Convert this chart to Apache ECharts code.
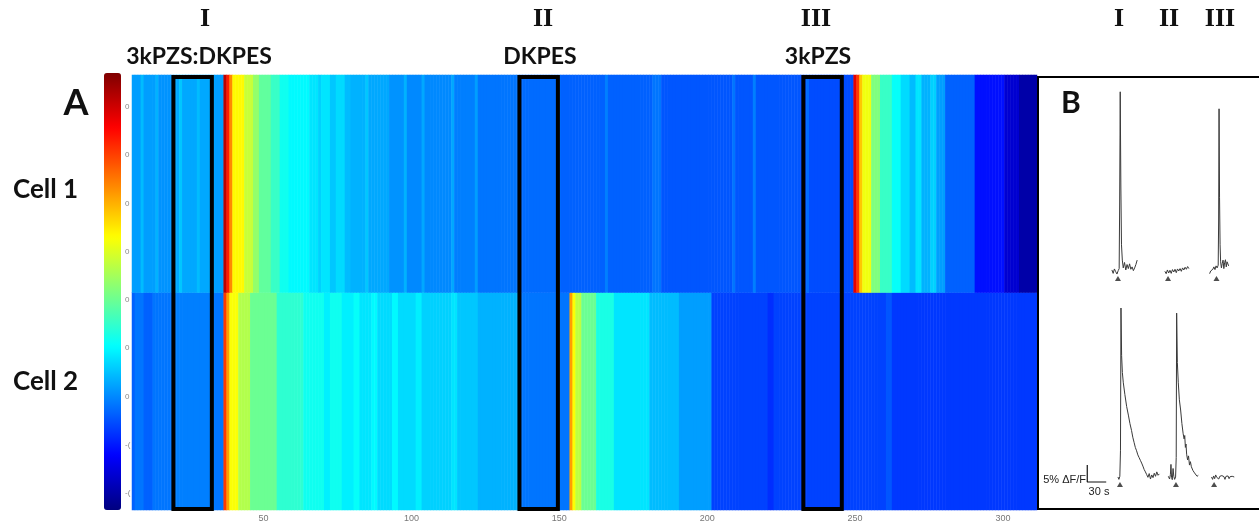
<!DOCTYPE html>
<html>
<head>
<meta charset="utf-8">
<style>
  html, body { margin: 0; padding: 0; background: #fff; }
  #main { width: 1259px; height: 527px; }
</style>
<script src="https://cdn.jsdelivr.net/npm/echarts@6/dist/echarts.min.js"></script>
</head>
<body>
<div id="main"></div>
<script>
// frames visible on the x axis of the heatmap
const firstFrame = 6;
const lastFrame = 311;
const rowNames = ['Cell 2', 'Cell 1'];
const xTickLabels = [50, 100, 150, 200, 250, 300];
const colorbarLabels = ['0', '0', '0', '0', '0', '0', '0', '-(', '-('];

// [first frame, last frame, colour value 0..1] read stripe by stripe
const cell1Runs = [
  [6, 8, 0.28], [9, 9, 0.31], [10, 13, 0.28], [14, 14, 0.30], [15, 19, 0.27],
  [20, 21, 0.29], [22, 22, 0.32], [23, 27, 0.29], [28, 28, 0.31], [29, 33, 0.29],
  [34, 36, 0.28], [37, 37, 0.94], [38, 38, 0.85], [39, 39, 0.74], [40, 43, 0.63], [44, 46, 0.57],
  [47, 48, 0.52], [49, 52, 0.47], [53, 55, 0.43], [56, 58, 0.39], [59, 65, 0.37], [66, 68, 0.35],
  [69, 69, 0.33], [70, 72, 0.35], [73, 74, 0.32], [75, 77, 0.34], [78, 79, 0.31], [80, 84, 0.30],
  [85, 85, 0.32], [86, 92, 0.29], [93, 97, 0.27], [98, 98, 0.30], [99, 103, 0.26], [104, 104, 0.29],
  [105, 113, 0.26], [114, 114, 0.29], [115, 121, 0.25], [122, 122, 0.28], [123, 136, 0.24],
  [137, 150, 0.23], [151, 165, 0.22], [166, 166, 0.25], [167, 181, 0.22], [182, 184, 0.24],
  [185, 208, 0.21], [209, 209, 0.24], [210, 215, 0.21], [216, 216, 0.25], [217, 231, 0.21],
  [232, 233, 0.20], [234, 234, 0.23], [235, 249, 0.20], [250, 250, 0.90], [251, 251, 0.82],
  [252, 252, 0.68], [253, 255, 0.61], [256, 258, 0.50], [259, 262, 0.43], [263, 265, 0.38],
  [266, 268, 0.34], [269, 270, 0.31], [271, 272, 0.35], [273, 275, 0.30], [276, 277, 0.33],
  [278, 280, 0.28], [281, 290, 0.22], [291, 300, 0.14], [301, 305, 0.08], [306, 311, 0.04]
];
const cell2Runs = [
  [6, 6, 0.22], [7, 9, 0.24], [10, 12, 0.22], [13, 19, 0.24], [20, 33, 0.25],
  [34, 36, 0.24], [37, 37, 0.82], [38, 38, 0.72], [39, 41, 0.62], [42, 45, 0.55], [46, 54, 0.48],
  [55, 63, 0.42], [64, 70, 0.39], [71, 72, 0.36], [73, 76, 0.39], [77, 80, 0.36], [81, 82, 0.38],
  [83, 86, 0.35], [87, 88, 0.37], [89, 93, 0.34], [94, 95, 0.37], [96, 101, 0.34], [102, 103, 0.36],
  [104, 113, 0.33], [114, 115, 0.35], [116, 122, 0.32], [123, 136, 0.30], [137, 153, 0.24],
  [154, 154, 0.72], [155, 155, 0.62], [156, 157, 0.56], [158, 162, 0.48], [163, 168, 0.40],
  [169, 180, 0.35], [181, 190, 0.31], [191, 201, 0.28], [202, 220, 0.19], [221, 222, 0.17],
  [223, 260, 0.19], [261, 262, 0.21], [263, 311, 0.18]
];

// boxed windows: [first frame, last frame]
const windows = [[20, 32], [137, 149], [233, 245]];
const windowNames = ['I', 'II', 'III'];
const windowDrugs = ['3kPZS:DKPES', 'DKPES', '3kPZS'];

// panel B traces, [time (s), dF/F (%)]
const traceC1I = [[3,0.6],[5,-0.4],[7,0.9],[9,0.1],[11,-0.6],[13,0.4],[14.5,1],[15.3,20],[16.2,53],[17.2,25],[18.2,8],[19.5,3.5],[21,1.2],[23,2.8],[25,0.6],[27,2.2],[29,1],[31,2.4],[33,0.8],[35,1.5],[37,0.4],[39,1.2],[41,2.2],[43,3.5]];
const traceC1II = [[3,0.2],[5,-0.5],[7,0.6],[9,-0.3],[11,0.5],[13,-0.4],[15,0.7],[17,0],[19,0.8],[21,-0.2],[23,0.9],[25,0.3],[27,1],[29,0.2],[31,1.2],[33,0.6],[35,1.4],[37,0.8],[39,1.6],[41,1]];
const traceC1III = [[3,-0.5],[5,0.3],[7,-0.2],[9,0.8],[11,1.5],[13,0.7],[15,1.8],[17,1.2],[19,2],[19.8,15],[20.6,48],[21.5,22],[22.5,8],[23.5,3],[25,1.2],[26.5,2.5],[28,3.5],[29.5,1],[31,2.8],[32.5,3.6],[34,1.5],[35.5,3],[37,3.4],[38.5,1.8]];
const traceC2I = [[1.5,0.3],[3,-0.4],[4.5,0.5],[5.5,8],[6.3,50],[7.3,36],[8.5,31],[10,28],[12.5,24.5],[15.3,21],[18,18.5],[20.5,16],[23,14],[25,12],[27,10.5],[29,9],[31,8],[33,6.8],[35,6],[37,5.2],[39,4.4],[41,3.5],[43,2.5],[45,1.8],[47,1],[49,0.2],[51,1.3],[53,-0.3],[55,0.9],[57,0.1],[59,1.4],[61,0.5],[63,1.8],[65,0.8],[67,1.2]];
const traceC2II = [[0.5,0.5],[2.5,-0.3],[3.8,1],[4.7,4],[5.6,0.2],[6.8,-0.5],[8,2.8],[9.2,0.5],[10.5,-0.4],[12,0.3],[13,6],[13.7,48.5],[14.8,34],[16.3,28],[18,23],[20,20],[22,16],[24,13],[25.5,11.5],[26.5,12.5],[27.5,9],[28.5,10],[29.5,7],[31,5.3],[32.5,6.5],[34,3.8],[35.5,4.8],[37,3.3],[39.5,2.2],[42,1.5],[44,2],[46,0.5],[48,0.8]];
const traceC2III = [[3,0.3],[5,-0.4],[7,0.6],[9,-0.2],[11,0.9],[13,0.2],[15,0.6],[17,-0.3],[19,0.5],[21,0.1],[23,0.7],[25,0.2],[27,0.4],[29,-0.4],[31,0.5],[33,0],[35,0.6],[37,-0.2],[39,0.4],[41,0.1],[43,0.5],[45,0.2],[47,0.3]];
// stimulus arrow times (s) for each trace
const stimTimes = [12.6, 8, 15.8, 4.7, 12.6, 7.9];
const scaleBar = [[2, 5], [2, 0], [32, 0]]; // 5 % by 30 s

const jet = ['#00007F', '#0000FF', '#007FFF', '#00FFFF', '#7FFF7F', '#FFFF00', '#FF7F00', '#FF0000', '#7F0000'];

const frames = [];
for (let i = firstFrame; i <= lastFrame; i++) frames.push(String(i));

const heatData = [];
[[cell2Runs, 0], [cell1Runs, 1]].forEach(function (pair) {
  pair[0].forEach(function (r) {
    for (let f = r[0]; f <= r[1]; f++) heatData.push([f - firstFrame, pair[1], r[2]]);
  });
});

const chart = echarts.init(document.getElementById('main'));

const grids = [
  { left: 132, right: 222, top: 75, bottom: 17 },      // heatmap
  { left: 121, width: 1, top: 82.85, height: 434.3 }   // colorbar labels
];
const xAxes = [
  {
    type: 'category', gridIndex: 0, data: frames,
    axisLine: { show: false }, axisTick: { show: false }, splitLine: { show: false },
    axisLabel: {
      interval: function (idx, val) { return xTickLabels.indexOf(+val) >= 0; },
      fontSize: 9, color: '#777', margin: 4, fontFamily: 'Liberation Sans'
    }
  },
  { type: 'value', gridIndex: 1, show: false }
];
const yAxes = [
  {
    type: 'category', gridIndex: 0, data: rowNames, show: false
  },
  {
    type: 'category', gridIndex: 1, data: colorbarLabels, inverse: true,
    position: 'right',
    axisLine: { show: false }, axisTick: { show: false },
    axisLabel: { margin: 3, fontSize: 8, color: '#888', fontFamily: 'Liberation Sans' }
  }
];

const series = [
  {
    type: 'heatmap', xAxisIndex: 0, yAxisIndex: 0, data: heatData,
    itemStyle: { borderWidth: 0 }, emphasis: { disabled: true }
  },
  {
    type: 'custom', xAxisIndex: 0, yAxisIndex: 0,
    data: windows.map(function (w) { return [w[0] - firstFrame, w[1] - firstFrame, 0]; }),
    encode: { x: [0, 1], y: 2 }, z: 5, silent: true,
    renderItem: function (params, api) {
      const a = api.coord([api.value(0), 0]);
      const b = api.coord([api.value(1), 0]);
      const w = api.size([1, 1])[0];
      const cs = params.coordSys;
      return {
        type: 'rect',
        shape: { x: a[0] - w / 2, y: cs.y + 2, width: b[0] - a[0] + w, height: cs.height - 3 },
        style: { fill: 'none', stroke: '#000', lineWidth: 4 }
      };
    }
  }
];

// panel B: one small grid per trace, shared scale (0.633 px per s, 3.4 px per %)
const traces = [traceC1I, traceC1II, traceC1III, traceC2I, traceC2II, traceC2III];
const traceLefts = [1110, 1163, 1208, 1117, 1168, 1210];
const baselines = [272, 272, 272, 478, 478, 478];
function addTraceGrid(left, baseY) {
  grids.push({ left: left, width: 60, top: baseY + 13.6 - 204, height: 204 });
  const gi = grids.length - 1;
  xAxes.push({ type: 'value', gridIndex: gi, min: 0, max: 95, show: false });
  yAxes.push({ type: 'value', gridIndex: gi, min: -4, max: 56, show: false });
  return gi;
}
traces.forEach(function (tr, i) {
  const gi = addTraceGrid(traceLefts[i], baselines[i]);
  series.push({
    type: 'line', xAxisIndex: gi, yAxisIndex: gi, data: tr, symbol: 'none', silent: true,
    lineStyle: { color: '#3a3a3a', width: 1 }
  });
  series.push({
    type: 'scatter', xAxisIndex: gi, yAxisIndex: gi, data: [[stimTimes[i], -1.9]], silent: true,
    symbol: 'triangle', symbolSize: [6, 5], itemStyle: { color: '#222' }
  });
});
const sg = addTraceGrid(1086, 482);
series.push({
  type: 'line', xAxisIndex: sg, yAxisIndex: sg, data: scaleBar, symbol: 'none', silent: true,
  lineStyle: { color: '#111', width: 1.2 }
});

function label(text, x, y, size, font, extra) {
  return Object.assign({
    type: 'text', x: x, y: y, z: 10, silent: true,
    style: {
      text: text, fontSize: size, fontWeight: 'bold', fontFamily: font, fill: '#111',
      textAlign: 'center', textVerticalAlign: 'middle'
    }
  }, extra || {});
}
const topNumX = [205, 543, 816];
const drugX = [199, 540, 818];
const rightNumX = [1119, 1169, 1220];
const rowLabelY = [382, 190];
const graphics = [
  label('A', 76, 103, 36, 'Lato'),
  label('B', 1071, 103, 30, 'Lato'),
  {
    type: 'rect', z: 10, silent: true,
    shape: { x: 1038, y: 77, width: 222, height: 432 },
    style: { fill: 'none', stroke: '#000', lineWidth: 2 }
  },
  {
    type: 'text', x: 1086, y: 480, z: 10, silent: true,
    style: { text: '5% ΔF/F', fontSize: 11, fontFamily: 'Liberation Sans', fill: '#222', textAlign: 'right', textVerticalAlign: 'middle' }
  },
  {
    type: 'text', x: 1099, y: 492, z: 10, silent: true,
    style: { text: '30 s', fontSize: 11, fontFamily: 'Liberation Sans', fill: '#222', textAlign: 'center', textVerticalAlign: 'middle' }
  }
];
rowNames.forEach(function (n, i) {
  graphics.push(label(n, 13, rowLabelY[i], 26, 'Lato', {}));
  graphics[graphics.length - 1].style.textAlign = 'left';
});
windowNames.forEach(function (n, i) {
  graphics.push(label(n, topNumX[i], 19, 26, 'Liberation Serif'));
  graphics.push(label(windowDrugs[i], drugX[i], 57, 23, 'Lato'));
  graphics.push(label(n, rightNumX[i], 19, 26, 'Liberation Serif'));
});

chart.setOption({
  animation: false,
  backgroundColor: '#fff',
  grid: grids,
  xAxis: xAxes,
  yAxis: yAxes,
  visualMap: {
    type: 'continuous', seriesIndex: 0, min: 0, max: 1, calculable: false,
    left: 104, top: 73, itemWidth: 17, itemHeight: 437, padding: 0,
    text: null, inRange: { color: jet }
  },
  graphic: graphics,
  series: series
});
</script>
</body>
</html>
